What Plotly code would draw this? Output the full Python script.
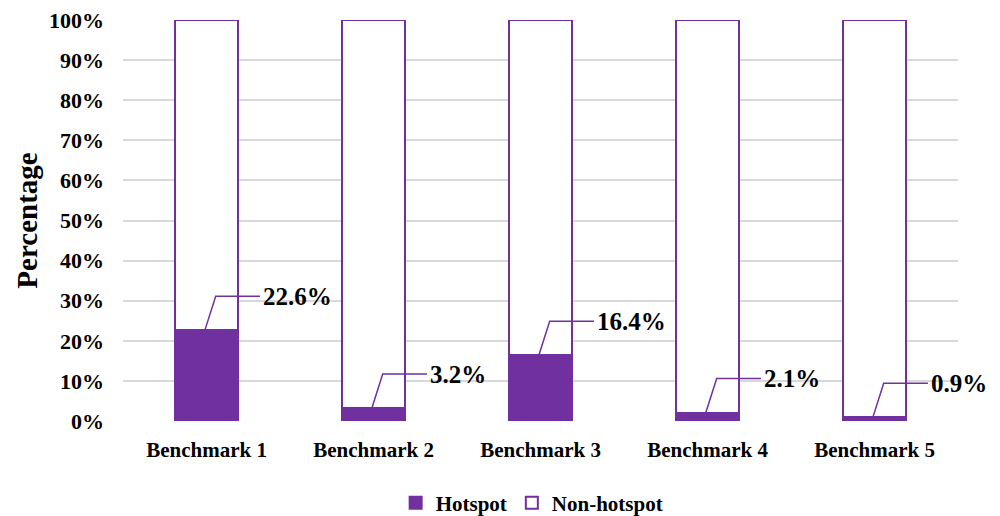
import plotly.graph_objects as go

# Share of hotspot vs non-hotspot regions per benchmark
benchmarks = ["Benchmark 1", "Benchmark 2", "Benchmark 3", "Benchmark 4", "Benchmark 5"]
hotspot = [22.6, 3.2, 16.4, 2.1, 0.9]
non_hotspot = [round(100 - v, 1) for v in hotspot]
y_ticks = [0, 10, 20, 30, 40, 50, 60, 70, 80, 90, 100]

PURPLE = "#7030A0"
FONT = "Times New Roman"
xs = list(range(len(benchmarks)))

fig = go.Figure()
fig.add_trace(go.Bar(
    x=xs, y=hotspot, name="<b>Hotspot</b>", width=0.38,
    marker=dict(color=PURPLE, line=dict(color=PURPLE, width=2)),
))
fig.add_trace(go.Bar(
    x=xs, y=non_hotspot, name="<b>Non-hotspot</b>", width=0.38,
    marker=dict(color="white", line=dict(color=PURPLE, width=2)),
))

# Callout leader lines and value labels
label_rise = 8.5
for xi, v in zip(xs, hotspot):
    ly = v + label_rise
    fig.add_shape(
        type="path", xref="x", yref="y",
        path=f"M {xi - 0.01},{v} L {xi + 0.055},{ly} L {xi + 0.32},{ly}",
        line=dict(color=PURPLE, width=1.5),
    )
    fig.add_annotation(
        x=xi + 0.325, y=ly, xref="x", yref="y", text=f"<b>{v}%</b>",
        showarrow=False, xanchor="left", yanchor="middle",
        font=dict(family=FONT, size=25, color="black"),
    )

fig.update_layout(
    barmode="stack",
    width=1000, height=516,
    margin=dict(l=123, r=42, t=20, b=95, autoexpand=False),
    paper_bgcolor="white", plot_bgcolor="white",
    showlegend=True,
    legend=dict(
        orientation="h", x=0.49, xanchor="center",
        yref="container", y=0.025, yanchor="middle",
        font=dict(family=FONT, size=21, color="black"),
        itemwidth=30, traceorder="normal",
    ),
    font=dict(family=FONT, color="black"),
)

fig.update_xaxes(
    tickvals=xs, ticktext=[f"<b>{b}</b>" for b in benchmarks], range=[-0.5, 4.5],
    showgrid=False, zeroline=False, showline=False,
    ticklabelstandoff=14,
    tickfont=dict(family=FONT, size=21, color="black"),
)
fig.update_yaxes(
    range=[0, 100], tickvals=y_ticks, ticktext=[f"<b>{t}%</b>" for t in y_ticks],
    showgrid=True, gridcolor="#d9d9d9", gridwidth=1.5,
    zeroline=False, showline=False,
    ticklabelstandoff=18,
    tickfont=dict(family=FONT, size=22, color="black"),
    title=dict(text="<b>Percentage</b>", standoff=2,
               font=dict(family=FONT, size=29, color="black")),
)

fig.write_html("out.html")
